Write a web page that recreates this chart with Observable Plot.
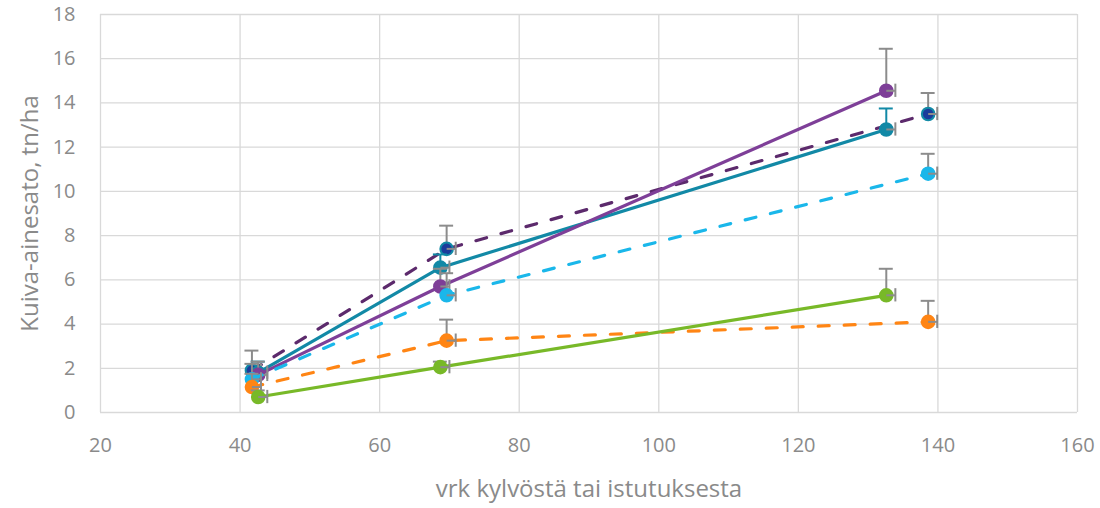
<!DOCTYPE html>
<html><head><meta charset="utf-8">
<script src="https://cdn.jsdelivr.net/npm/d3@7"></script>
<script src="https://cdn.jsdelivr.net/npm/@observablehq/plot@0.6"></script>
<style>body{margin:0;background:#fff} svg{display:block}</style>
</head><body><div id="chart"></div>
<script>
// x positions (days from sowing / planting)
const xDashed = [41.7, 69.6, 138.6];
const xSolid = [42.6, 68.7, 132.6];
const xErr = 1.3;

// series values (tn/ha) and plus error
const yDarkDashed = [1.9, 7.4, 13.5];
const eDarkDashed = [0.9, 1.05, 0.95];
const yTeal = [1.8, 6.55, 12.8];
const eTeal = [0.5, 0.6, 0.95];
const yPurple = [1.7, 5.7, 14.55];
const ePurple = [0.6, 0.8, 1.9];
const yLightDashed = [1.5, 5.3, 10.8];
const eLightDashed = [0.7, 1.0, 0.9];
const yOrangeDashed = [1.15, 3.25, 4.1];
const eOrangeDashed = [0.6, 0.95, 0.95];
const yGreen = [0.7, 2.05, 5.3];
const eGreen = [0.3, 0.25, 1.2];

const xTicks = [20, 40, 60, 80, 100, 120, 140, 160];
const yTicks = [0, 2, 4, 6, 8, 10, 12, 14, 16, 18];

const series = [
  {x: xDashed, y: yDarkDashed, e: eDarkDashed, line: "#5c2a6c", dash: true, fill: "#1b3c9b", ring: "#128aa6", err: "#8c8c8c"},
  {x: xSolid, y: yTeal, e: eTeal, line: "#1289a6", dash: false, fill: "#1289a6", ring: "#1289a6", err: "#1289a6"},
  {x: xSolid, y: yPurple, e: ePurple, line: "#7e3f98", dash: false, fill: "#7e3f98", ring: "#7e3f98", err: "#8c8c8c"},
  {x: xDashed, y: yLightDashed, e: eLightDashed, line: "#1ab7ea", dash: true, fill: "#1ab7ea", ring: "#1ab7ea", err: "#8c8c8c"},
  {x: xDashed, y: yOrangeDashed, e: eOrangeDashed, line: "#ff8514", dash: true, fill: "#ff8514", ring: "#ff8514", err: "#8c8c8c"},
  {x: xSolid, y: yGreen, e: eGreen, line: "#78b928", dash: false, fill: "#78b928", ring: "#78b928", err: "#8c8c8c"}
];

const marks = [
  Plot.gridY({ticks: yTicks, stroke: "#d9d9d9", strokeOpacity: 1, strokeWidth: 1.3}),
  Plot.gridX({ticks: xTicks, stroke: "#d9d9d9", strokeOpacity: 1, strokeWidth: 1.3}),
  Plot.axisY({ticks: yTicks, tickSize: 0, tickPadding: 25, fontSize: 20, fill: "#8a8a8a",
    label: "Kuiva-ainesato, tn/ha", labelAnchor: "center", labelArrow: "none", labelOffset: 80}),
  Plot.axisX({ticks: xTicks, tickSize: 0, tickPadding: 25, fontSize: 20, fill: "#8a8a8a",
    label: "vrk kylvöstä tai istutuksesta", labelAnchor: "center", labelArrow: "none", labelOffset: 84})
];

series.forEach(s => {
  const rows = s.y.map((v, i) => ({x: s.x[i], y: v, e: s.e[i]}));
  marks.push(Plot.line(rows, {x: "x", y: "y", stroke: s.line, strokeWidth: 3.2,
    strokeLinecap: "round", strokeDasharray: s.dash ? "11,15" : null}));
  marks.push(Plot.link(rows, {x1: "x", x2: "x", y1: "y", y2: d => d.y + d.e, stroke: s.err, strokeWidth: 2}));
  marks.push(Plot.ruleY(rows, {y: d => d.y + d.e, x1: d => d.x - 1, x2: d => d.x + 1, stroke: s.err, strokeWidth: 2}));
  marks.push(Plot.dot(rows, {x: "x", y: "y", r: 6.3, fill: s.fill, stroke: s.ring, strokeWidth: 2}));
  marks.push(Plot.link(rows, {x1: "x", x2: d => d.x + xErr, y1: "y", y2: "y", stroke: "#8c8c8c", strokeWidth: 2}));
  marks.push(Plot.ruleX(rows, {x: d => d.x + xErr, y1: d => d.y - 0.3, y2: d => d.y + 0.3, stroke: "#8c8c8c", strokeWidth: 2}));
});

const chart = Plot.plot({
  width: 1100, height: 508,
  marginLeft: 100, marginRight: 23, marginTop: 14, marginBottom: 96,
  style: {fontFamily: "'Open Sans', sans-serif", background: "#fff"},
  x: {domain: [20, 160]},
  y: {domain: [0, 18]},
  marks
});
chart.querySelectorAll('[aria-label="x-axis label"] text, [aria-label="y-axis label"] text').forEach(t => {
  t.setAttribute("font-size", "24");
});
document.getElementById("chart").appendChild(chart);
</script>
</body></html>
